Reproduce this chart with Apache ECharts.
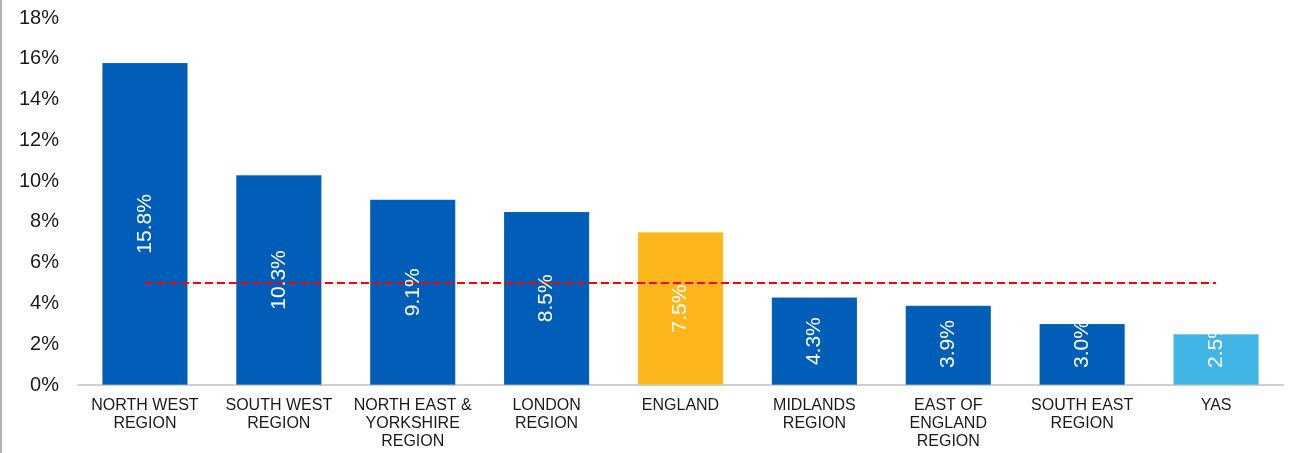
<!DOCTYPE html>
<html>
<head>
<meta charset="utf-8">
<script src="https://cdn.jsdelivr.net/npm/echarts@6/dist/echarts.min.js"></script>
<style>
  html, body { margin: 0; padding: 0; background: #fff; }
  #chart { width: 1292px; height: 453px; }
</style>
</head>
<body>
<div id="chart"></div>
<script>
// Regions and their rates (%)
const categories = [
  'NORTH WEST\nREGION',
  'SOUTH WEST\nREGION',
  'NORTH EAST &\nYORKSHIRE\nREGION',
  'LONDON\nREGION',
  'ENGLAND',
  'MIDLANDS\nREGION',
  'EAST OF\nENGLAND\nREGION',
  'SOUTH EAST\nREGION',
  'YAS'
];
const rates = [15.8, 10.3, 9.1, 8.5, 7.5, 4.3, 3.9, 3.0, 2.5];
const target = [5, 5, 5, 5, 5, 5, 5, 5, 5];
const yTicks = [0, 2, 4, 6, 8, 10, 12, 14, 16, 18];

const BLUE = '#005EB8';
const barColors = {
  'ENGLAND': '#FDB71D',
  'YAS': '#41B6E6'
};

const GRID = { left: 78, right: 9, top: 18, bottom: 68 };
const LABEL_SIZE = 21;
const LABEL_PAD = 17;

// Short bars cannot hold a centred label, so their labels start a fixed
// distance above the baseline and run upward instead.
const plotH = 453 - GRID.top - GRID.bottom;
const pxPerUnit = plotH / (yTicks[yTicks.length - 1] - yTicks[0]);
function labelFor(v) {
  const text = v.toFixed(1) + '%';
  const textLen = LABEL_SIZE * (0.556 * (text.length - 2) + 0.278 + 0.889);
  if (v * pxPerUnit >= textLen + 2 * LABEL_PAD) {
    return { position: 'inside' };
  }
  return { position: 'insideBottom', distance: LABEL_PAD, align: 'left', verticalAlign: 'middle' };
}

const chart = echarts.init(document.getElementById('chart'), null, { renderer: 'canvas' });

chart.setOption({
  animation: false,
  backgroundColor: '#ffffff',
  textStyle: { fontFamily: 'Liberation Sans, Arial, sans-serif' },
  grid: Object.assign({ containLabel: false }, GRID),
  xAxis: {
    type: 'category',
    data: categories,
    axisLine: { show: true, lineStyle: { color: '#d0d0d0', width: 2 } },
    axisTick: { show: false },
    axisLabel: {
      color: '#1a1a1a',
      fontSize: 16,
      lineHeight: 18,
      margin: 12,
      interval: 0
    }
  },
  yAxis: {
    type: 'value',
    min: yTicks[0],
    max: yTicks[yTicks.length - 1],
    interval: 2,
    splitLine: { show: false },
    axisLine: { show: false },
    axisTick: { show: false },
    axisLabel: {
      color: '#1a1a1a',
      fontSize: 20,
      margin: 19,
      formatter: v => v + '%'
    }
  },
  series: [
    {
      type: 'bar',
      barWidth: '64%',
      data: rates.map((v, i) => ({
        value: v,
        itemStyle: {
          color: barColors[categories[i]] || BLUE,
          borderColor: 'rgba(255,255,255,0.25)',
          borderWidth: 0.5
        }
      })),
      silent: true,
      z: 2
    },
    {
      // dashed target line across all regions
      type: 'line',
      data: target,
      symbol: 'none',
      lineStyle: { color: '#ff0000', width: 2, type: [8, 4] },
      silent: true,
      z: 3
    },
    {
      // value labels drawn above the target line
      type: 'bar',
      barWidth: '64%',
      barGap: '-100%',
      data: rates.map(v => ({ value: v, label: labelFor(v) })),
      itemStyle: { color: 'rgba(0,0,0,0)' },
      label: {
        show: true,
        rotate: 90,
        color: '#ffffff',
        fontSize: LABEL_SIZE,
        formatter: p => p.value.toFixed(1) + '%'
      },
      silent: true,
      z: 4
    }
  ],
  graphic: [
    {
      type: 'line',
      shape: { x1: 1, y1: 0, x2: 1, y2: 453 },
      style: { stroke: '#9a9a9a', lineWidth: 1.5 }
    }
  ]
});
</script>
</body>
</html>
